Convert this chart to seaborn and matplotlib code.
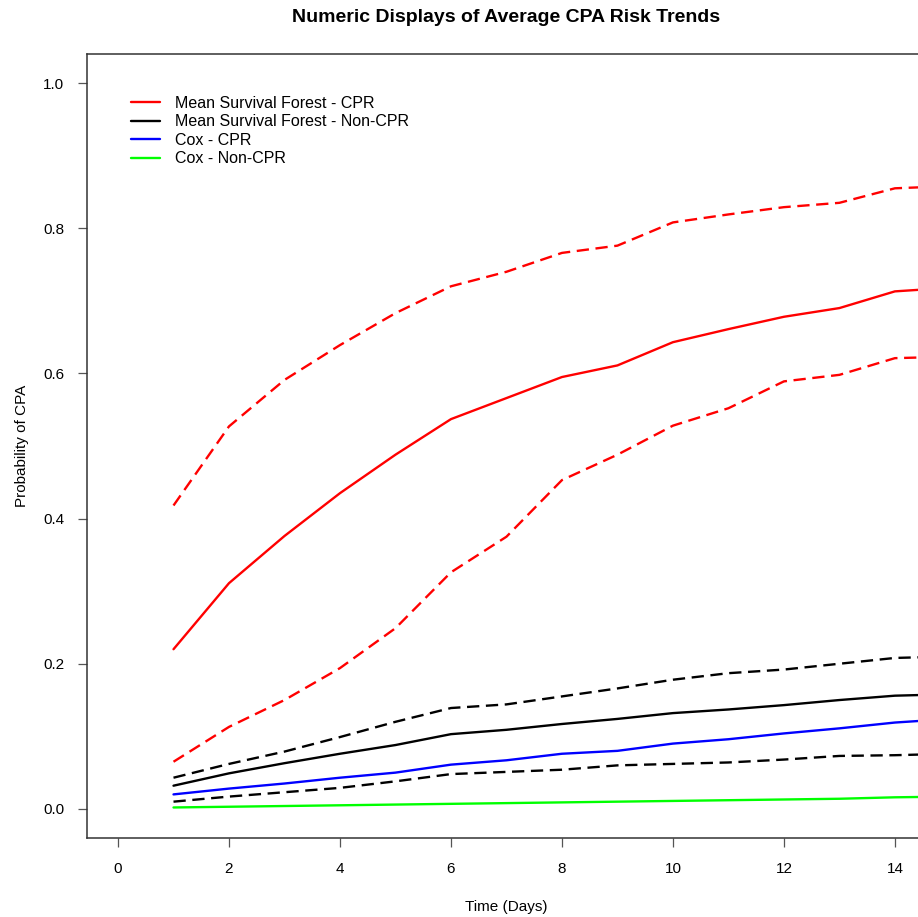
import pandas as pd
import matplotlib
matplotlib.use("Agg")
import matplotlib.pyplot as plt
import seaborn as sns

# days and average risk curves
days = list(range(1, 16))

rsf_cpr = [0.220, 0.311, 0.376, 0.435, 0.488, 0.537, 0.566, 0.595, 0.611, 0.643, 0.661, 0.678, 0.690, 0.713, 0.718]
rsf_cpr_hi = [0.418, 0.527, 0.591, 0.639, 0.683, 0.720, 0.740, 0.766, 0.776, 0.808, 0.819, 0.829, 0.835, 0.855, 0.858]
rsf_cpr_lo = [0.065, 0.113, 0.150, 0.194, 0.249, 0.326, 0.375, 0.453, 0.488, 0.528, 0.552, 0.589, 0.598, 0.621, 0.623]

rsf_non = [0.032, 0.049, 0.063, 0.076, 0.088, 0.103, 0.109, 0.117, 0.124, 0.132, 0.137, 0.143, 0.150, 0.156, 0.158]
rsf_non_hi = [0.043, 0.062, 0.079, 0.099, 0.120, 0.139, 0.144, 0.155, 0.166, 0.178, 0.187, 0.192, 0.200, 0.208, 0.210]
rsf_non_lo = [0.010, 0.017, 0.023, 0.029, 0.038, 0.048, 0.051, 0.054, 0.060, 0.062, 0.064, 0.068, 0.073, 0.074, 0.076]

cox_cpr = [0.020, 0.028, 0.035, 0.043, 0.050, 0.061, 0.067, 0.076, 0.080, 0.090, 0.096, 0.104, 0.111, 0.119, 0.124]
cox_non = [0.002, 0.003, 0.004, 0.005, 0.006, 0.007, 0.008, 0.009, 0.010, 0.011, 0.012, 0.013, 0.014, 0.016, 0.017]

legend_labels = ["Mean Survival Forest - CPR", "Mean Survival Forest - Non-CPR", "Cox - CPR", "Cox - Non-CPR"]

sns.set_style("ticks")
plt.rcParams["font.family"] = ["Liberation Sans", "DejaVu Sans"]
plt.rcParams["text.color"] = "black"
plt.rcParams["axes.labelcolor"] = "black"

fig = plt.figure(figsize=(9.18, 9.17), dpi=100)
ax = fig.add_axes([0.0947, 0.0862, 0.914, 0.8549])

lw = 1.7
dash = (5.2, 2.8)

# solid curves (in legend)
sns.lineplot(x=days, y=rsf_cpr, color="#ff0000", lw=lw, ax=ax, label=legend_labels[0])
sns.lineplot(x=days, y=rsf_non, color="#000000", lw=lw, ax=ax, label=legend_labels[1])
sns.lineplot(x=days, y=cox_cpr, color="#0000ff", lw=lw, ax=ax, label=legend_labels[2])
sns.lineplot(x=days, y=cox_non, color="#00ff00", lw=lw, ax=ax, label=legend_labels[3])

# dashed bounds
for vals, col in [(rsf_cpr_hi, "#ff0000"), (rsf_cpr_lo, "#ff0000"),
                  (rsf_non_hi, "#000000"), (rsf_non_lo, "#000000")]:
    sns.lineplot(x=days, y=vals, color=col, lw=lw, ax=ax, dashes=False, legend=False)
    ax.lines[-1].set_dashes(dash)

ax.set_xlim(-0.56, 14.56)
ax.set_ylim(-0.04, 1.04)
ax.set_xticks(range(0, 15, 2))
ax.set_yticks([0.0, 0.2, 0.4, 0.6, 0.8, 1.0])
ax.set_yticklabels(["0.0", "0.2", "0.4", "0.6", "0.8", "1.0"])

for s in ax.spines.values():
    s.set_visible(True)
    s.set_color("#333333")
    s.set_linewidth(1.1)
ax.tick_params(direction="out", length=6.5, width=0.9, color="#555555",
               labelsize=11, pad=10, labelcolor="black")
ax.tick_params(axis="x", pad=11)

ax.set_title("Numeric Displays of Average CPA Risk Trends", fontsize=14,
             fontweight="bold", pad=23, color="black")
ax.set_xlabel("Time (Days)", fontsize=11, labelpad=17)
ax.set_ylabel("Probability of CPA", fontsize=11, labelpad=10)

leg = ax.legend(loc="upper left", bbox_to_anchor=(0.045, 0.955), frameon=False,
                fontsize=11.5, handlelength=1.8, handletextpad=0.95, labelspacing=0.22,
                borderaxespad=0)
for t in leg.get_texts():
    t.set_color("black")

fig.savefig("out.png", dpi=100)
